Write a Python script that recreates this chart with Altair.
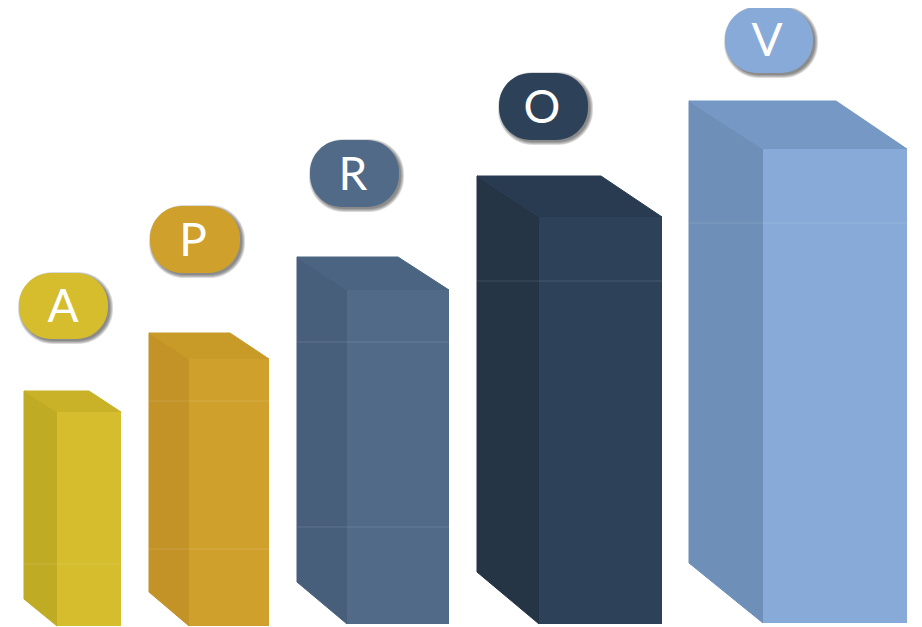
import altair as alt
import pandas as pd

labels = ["A", "P", "R", "O", "V"]
# Bar geometry, in picture pixels
back_left = [24, 149, 297, 477, 689]
back_right = [89, 230, 398, 601, 836]
front_left = [57, 189, 347, 539, 763]
front_right = [121, 269, 449, 662, 907]
back_top = [391, 333, 257, 176, 101]
front_top = [412, 359, 290, 217, 149]
side_bottom = [599, 592, 582, 572, 563]
bottom = [626, 626, 624, 624, 623]
bands = [[564], [401, 549], [342, 527], [281], [223]]
# Colours
front_col = ["#D5BD2D", "#D0A02C", "#516A87", "#2D4259", "#87AAD8"]
side_col = ["#BFAB24", "#C39327", "#485F7B", "#253545", "#6E8FB7"]
top_col = ["#C9B228", "#C89A28", "#4A6482", "#293B51", "#7598C5"]
# Label pills
pill_left = [19, 150, 310, 499, 725]
pill_right = [108, 240, 399, 588, 813]
pill_top = [273, 206, 140, 73, 7]
pill_bottom = [339, 273, 207, 140, 73]
text_x = [63, 193, 353, 542, 767]
text_base = [322, 256, 190, 123, 56]

W, H = 906, 619
xs = alt.Scale(domain=[8, 914], nice=False, zero=False)
ys = alt.Scale(domain=[627, 8], nice=False, zero=False)
X = lambda f: alt.X(f, type="quantitative", scale=xs, axis=None, stack=None)
Y = lambda f: alt.Y(f, type="quantitative", scale=ys, axis=None, stack=None)

layers = []
for i, name in enumerate(labels):
    front = pd.DataFrame([{"x": front_left[i], "x2": front_right[i],
                           "y": front_top[i], "y2": bottom[i]}])
    side = pd.DataFrame({"x": [back_left[i], front_left[i]],
                         "y": [back_top[i], front_top[i]],
                         "y2": [side_bottom[i], bottom[i]]})
    top = pd.DataFrame({"y": [back_top[i], front_top[i]],
                        "x": [back_left[i], front_left[i]],
                        "x2": [back_right[i], front_right[i]]})
    layers.append(alt.Chart(side).mark_area(color=side_col[i], stroke=side_col[i], strokeWidth=1,
                                            orient="vertical", clip=False).encode(
        x=X("x"), y=Y("y"), y2="y2"))
    layers.append(alt.Chart(top).mark_area(color=top_col[i], stroke=top_col[i], strokeWidth=1,
                                           orient="horizontal", clip=False).encode(
        y=Y("y"), x=X("x"), x2="x2"))
    layers.append(alt.Chart(front).mark_rect(color=front_col[i], clip=False).encode(
        x=X("x"), x2="x2", y=Y("y"), y2="y2"))
    band = pd.DataFrame([{"x": back_left[i], "x3": front_right[i], "y": b}
                         for b in bands[i]])
    layers.append(alt.Chart(band).mark_rule(color="white", opacity=0.13, strokeWidth=1).encode(
        x=X("x"), x2="x3", y=Y("y")))

pills = pd.DataFrame({"label": labels, "l": pill_left, "r": pill_right, "t": pill_top,
                      "b": pill_bottom, "tx": text_x, "ty": text_base, "col": front_col})

# soft shadow built from stacked translucent pills
for spread in [3, 2, 1, 0]:
    s = pills.assign(l=pills.l + 2 - spread, r=pills.r + 2 + spread,
                     t=pills.t + 2 - spread, b=pills.b + 2 + spread)
    layers.append(alt.Chart(s).mark_rect(color="#222222", opacity=0.17,
                                         cornerRadius=32 + spread).encode(
        x=X("l"), x2="r", y=Y("t"), y2="b"))

layers.append(alt.Chart(pills).mark_rect(cornerRadius=32).encode(
    x=X("l"), x2="r", y=Y("t"), y2="b",
    color=alt.Color("col:N", scale=None, legend=None)))
layers.append(alt.Chart(pills).mark_text(font="Lato", fontSize=46, color="white",
                                         align="center", baseline="alphabetic").encode(
    x=X("tx"), y=Y("ty"), text="label:N"))

chart = alt.layer(*layers).properties(width=W, height=H, padding=0, background="white",
                                      autosize=alt.AutoSizeParams(type="none")) \
    .configure_view(stroke=None)
chart.save("out.html", embed_options={"renderer": "svg", "actions": False})
